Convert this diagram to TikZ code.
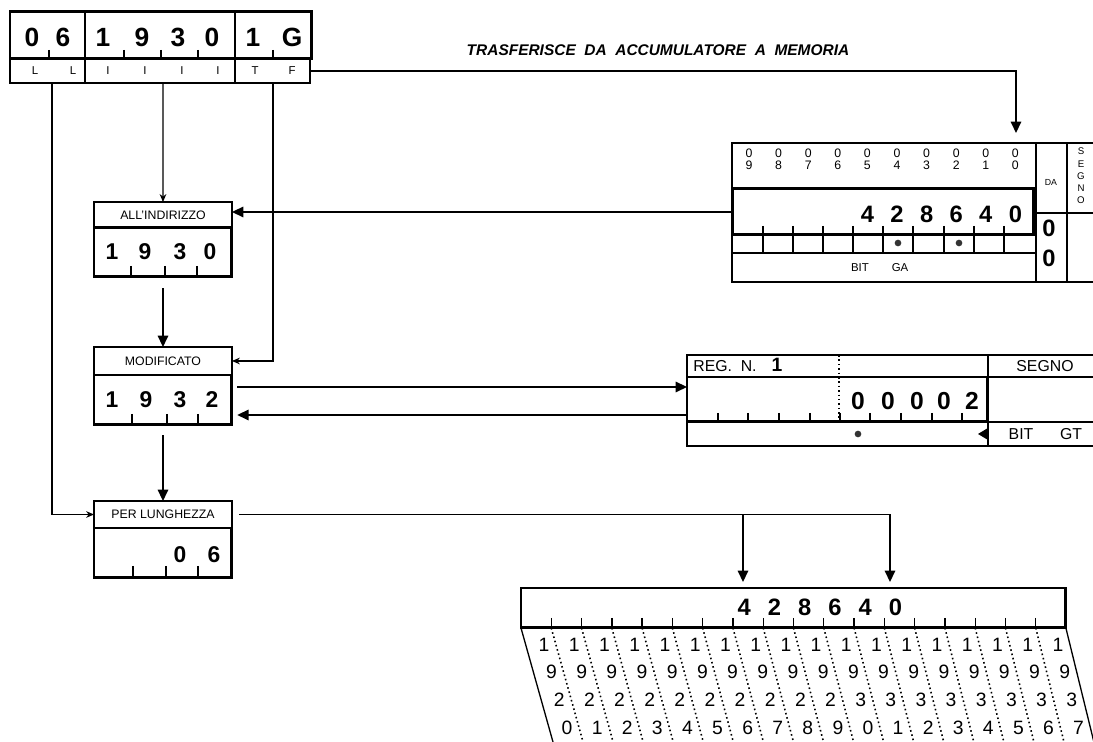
\documentclass[tikz,border=0pt]{standalone}
\usepackage{fontspec}
\setmainfont{Liberation Sans}
\setsansfont{Liberation Sans}
\usetikzlibrary{arrows.meta,calc}

\begin{document}
\begin{tikzpicture}[
  x=0.02cm, y=-0.02cm,
  spesso/.style={draw=black, line width=1.7pt, inner sep=0pt, outer sep=0pt,
                 anchor=north west},
  sottile/.style={draw=black, line width=0.75pt, inner sep=0pt, outer sep=0pt,
                  anchor=north west},
  cifra/.style={font=\bfseries\fontsize{#1}{#1}\selectfont, inner sep=0pt},
  cifra/.default=13,
  testo/.style={font=\fontsize{#1}{#1}\selectfont, inner sep=0pt},
  testo/.default=7,
  tacca/.style={line width=0.75pt},
  punti/.style={line width=0.9pt, dash pattern=on 0.9pt off 1.6pt},
  flusso/.style={line width=0.85pt, -{Triangle[length=6.5pt, width=6pt]}},
  filo/.style={line width=0.6pt, -{Stealth[length=4.5pt, width=3.8pt]}}
]
\useasboundingbox (0,0) rectangle (1093,742);
\clip (0,0) rectangle (1093,742);

% Istruzione
\node[sottile, minimum width=6.00cm, minimum height=0.48cm] (campi) at (10,59) {};
\node[spesso, minimum width=6.04cm, minimum height=0.94cm] (istr) at (10,12) {};
\draw[tacca] (85,12) -- (85,83);
\draw[tacca] (235,12) -- (235,83);
\foreach \x in {49,124,161,198,273}
  \draw[tacca] (\x,50) -- (\x,59);
\foreach \x/\cif in {32/0,63/6,103/1,142/9,178/3,212/0,253/1,292/G}
  \node[cifra=15] (is-\x) at (\x,37) {\cif};
\foreach \x/\cif in {35/L,73/L,108/I,145/I,182/I,218/I,255/T,292/F}
  \node[testo=6.5] (ca-\x) at (\x,71) {\cif};
\coordinate (cL) at (52,83);
\coordinate (cI) at (163,83);
\coordinate (cT) at (273,83);

\node[font=\bfseries\itshape\fontsize{8.8}{8.8}\selectfont, inner sep=0pt]
  (titolo) at (658,50) {TRASFERISCE\ \ DA\ \ ACCUMULATORE\ \ A\ \ MEMORIA};

% Accumulatore
\node[sottile, minimum width=7.80cm, minimum height=2.78cm] (acc) at (732,143) {};
\draw[tacca] (1036,143) -- (1036,282);
\draw[tacca] (1067,143) -- (1067,282);
\draw[tacca] (1036,213) -- (1122,213);
\draw[tacca] (732,253) -- (1036,253);
\node[spesso, minimum width=6.02cm, minimum height=0.92cm] (accval) at (733,189) {};
\foreach \x in {763,793,823,853,883,913,944,974,1004}
  \draw[tacca] (\x,226) -- (\x,253);
\foreach \i in {0,...,9}{
  \pgfmathsetmacro{\px}{749+29.6*\i}
  \pgfmathtruncatemacro{\pn}{9-\i}
  \node[testo=7] (pz-\i) at (\px,153) {0};
  \node[testo=7] (pe-\i) at (\px,165) {\pn};
}
\foreach \cif [count=\k from 4] in {4,2,8,6,4,0}{
  \pgfmathsetmacro{\px}{749+29.6*\k}
  \node[cifra=13.5] (ac-\k) at (\px,214) {\cif};
}
\fill[black!80] (898,243) circle (1.9pt);
\fill[black!80] (959,243) circle (1.9pt);
\node[testo=6.5] (bitga) at (860,268) {BIT};
\node[testo=6.5] (ga) at (900,268) {GA};
\node[testo=5] (da) at (1051,182) {DA};
\node[cifra=13.5] (da1) at (1049,228) {0};
\node[cifra=13.5] (da2) at (1049,258) {0};
\node[font=\fontsize{5.5}{7}\selectfont, align=center, inner sep=0pt]
  (segnoa) at (1081,176) {S\\E\\G\\N\\O};

% Registro indice
\node[sottile, minimum width=8.70cm, minimum height=1.82cm] (reg) at (687,355) {};
\draw[tacca] (687,377) -- (1122,377);
\draw[tacca] (988,355) -- (988,446);
\draw[tacca] (988,422) -- (1122,422);
\node[spesso, minimum width=6.02cm, minimum height=0.90cm] (regval) at (687,377) {};
\draw[punti] (839,355) -- (839,422);
\foreach \x in {718,748,779,810,840,870,901,932,962}
  \draw[tacca] (\x,413) -- (\x,422);
\foreach \x/\cif in {858/0,888/0,917/0,944/0,972/2}
  \node[cifra=14] (rg-\x) at (\x,401) {\cif};
\node[testo=9, anchor=west] (regn) at (693,366) {REG.\ \ N.};
\node[cifra=11] (regnum) at (777,365) {1};
\node[testo=9] (segnor) at (1045,366) {SEGNO};
\fill[black!80] (858,434) circle (1.9pt);
\fill (978,434) -- (988,428) -- (988,440) -- cycle;
\node[testo=9] (bitgt) at (1021,434) {BIT};
\node[testo=9] (gt) at (1071,434) {GT};

% Indirizzo, modificato, lunghezza
\node[sottile, minimum width=2.76cm, minimum height=0.52cm, testo] (ind) at (94,202)
  {ALL'INDIRIZZO};
\node[spesso, minimum width=2.76cm, minimum height=0.98cm] (indval) at (94,228) {};
\foreach \x/\cif in {112/1,145/9,180/3,210/0}
  \node[cifra] (in-\x) at (\x,252) {\cif};
\foreach \x in {131,165,197}
  \draw[tacca] (\x,266) -- (\x,277);

\node[sottile, minimum width=2.76cm, minimum height=0.56cm, testo] (mod) at (94,347)
  {MODIFICATO};
\node[spesso, minimum width=2.76cm, minimum height=1.00cm] (modval) at (94,375) {};
\foreach \x/\cif in {112/1,146/9,180/3,212/2}
  \node[cifra] (mo-\x) at (\x,400) {\cif};
\foreach \x in {132,167,198}
  \draw[tacca] (\x,414) -- (\x,425);

\node[sottile, minimum width=2.76cm, minimum height=0.54cm, testo] (lung) at (94,501)
  {PER LUNGHEZZA};
\node[spesso, minimum width=2.76cm, minimum height=1.00cm] (lungval) at (94,528) {};
\foreach \x/\cif in {180/0,214/6}
  \node[cifra] (lu-\x) at (\x,555) {\cif};
\foreach \x in {133,166,198}
  \draw[tacca] (\x,566) -- (\x,578);

% Memoria
\node[spesso, minimum width=10.90cm, minimum height=0.80cm] (mem) at (521,588) {};
\draw[tacca] (mem.south west) -- ++(32,114);
\draw[tacca] (mem.south east) -- ++(28,114);
\foreach \k in {1,...,17}{
  \pgfmathsetmacro{\px}{521+30.28*\k}
  \pgfmathsetmacro{\dx}{32-4*\k/18}
  \draw[tacca] (\px,618) -- (\px,628);
  \draw[punti] (\px,628) -- ++(\dx,114);
}
\foreach \cif [count=\k from 7] in {4,2,8,6,4,0}{
  \pgfmathsetmacro{\px}{521+30.28*(\k+0.5)-4}
  \node[cifra=13.5] (me-\k) at (\px,607) {\cif};
}
\foreach \i in {0,...,17}{
  \pgfmathsetmacro{\cx}{521+30.28*(\i+0.5)+3}
  \pgfmathsetmacro{\sl}{(32-4*(\i+0.5)/18)/114}
  \pgfmathtruncatemacro{\dec}{\i<10 ? 2 : 3}
  \pgfmathtruncatemacro{\uni}{mod(\i,10)}
  \foreach \y/\cif in {645/1,672/9,700/\dec,728/\uni}
    \node[testo=11] (mc-\i-\y) at ({\cx+\sl*(\y-628)},\y) {\cif};
}

% Collegamenti
\coordinate (accin) at (1016,133);
\coordinate (m1) at (743,582);
\coordinate (m2) at (890,582);
\draw[flusso] (campi.east) -| (accin);
\draw[flusso] (accval.west) -- (ind.east |- accval.west);
\draw[filo] (cI) -- (ind.north);
\draw[filo] (cT) |- (mod.east);
\draw[filo] (cL) |- (lung.west);
\draw[flusso, shorten <=3pt] ([yshift=-0.12cm]indval.south) -- (mod.north);
\draw[flusso, shorten <=3pt] ([yshift=-0.1cm]modval.south) -- (lung.north);
\draw[flusso, shorten <=3pt] ([yshift=0.26cm]modval.east)
  -- ([yshift=0.26cm]modval.east -| regval.west);
\draw[flusso, shorten >=3pt] ([yshift=-0.30cm]modval.east -| regval.west)
  -- ([yshift=-0.30cm]modval.east);
\draw[flusso, shorten <=4pt] (lung.east) -| (m2);
\draw[flusso] (lung.east -| m1) -- (m1);

\end{tikzpicture}
\end{document}
